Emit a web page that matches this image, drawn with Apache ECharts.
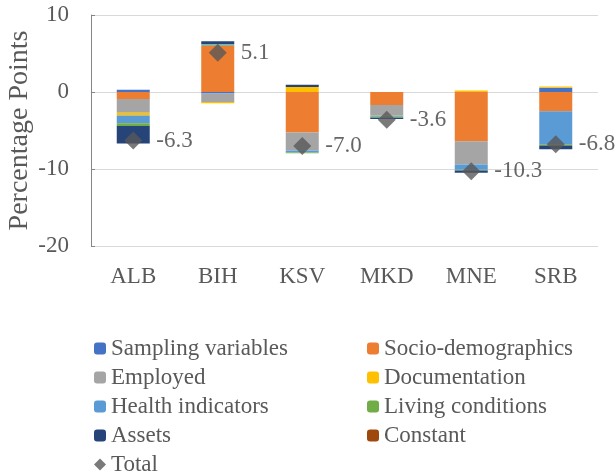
<!DOCTYPE html>
<html>
<head>
<meta charset="utf-8">
<script src="https://cdn.jsdelivr.net/npm/echarts@6/dist/echarts.min.js"></script>
<style>
  html, body { margin: 0; padding: 0; background: #fff; }
  #chart { width: 615px; height: 474px; }
</style>
</head>
<body>
<div id="chart"></div>
<script>
var countries = ['ALB', 'BIH', 'KSV', 'MKD', 'MNE', 'SRB'];
var sampling = [0.3, -0.2, 0, 0, 0, 0.55];
var socio = [-0.9, 6.0, -5.25, -1.7, -6.4, -2.5];
var employed = [-1.8, -1.1, -2.35, -1.3, -3.0, 0];
var documentation = [-0.35, -0.15, 0.65, -0.05, 0.2, 0.15];
var health = [-1.0, 0.15, -0.25, -0.15, -0.7, -4.3];
var living = [-0.35, 0.1, -0.1, -0.15, -0.1, -0.15];
var assets = [-2.3, 0.35, 0.3, -0.15, -0.3, -0.5];
var constant = [0, 0, 0, 0, 0, 0];
var total = [-6.3, 5.1, -7.0, -3.6, -10.3, -6.8];
var yTicks = [-20, -10, 0, 10];

var font = "'Liberation Serif', 'Times New Roman', serif";
var textColor = '#595959';

// one bar series per component, all in the same stack
var parts = [
    { name: 'Sampling variables', data: sampling, color: '#4472C4' },
    { name: 'Socio-demographics', data: socio, color: '#ED7D31' },
    { name: 'Employed', data: employed, color: '#A5A5A5' },
    { name: 'Documentation', data: documentation, color: '#FFC000' },
    { name: 'Health indicators', data: health, color: '#5B9BD5' },
    { name: 'Living conditions', data: living, color: '#70AD47' },
    { name: 'Assets', data: assets, color: '#264478' },
    { name: 'Constant', data: constant, color: '#9E480E' }
];

var series = parts.map(function (p) {
    return {
        name: p.name,
        type: 'bar',
        stack: 'total',
        barWidth: 33,
        itemStyle: { color: p.color },
        data: p.data
    };
});
series.push({
    name: 'Total',
    type: 'scatter',
    symbol: 'diamond',
    symbolSize: 18,
    itemStyle: { color: '#595959' },
    label: {
        show: true,
        position: 'right',
        distance: 14,
        fontFamily: font,
        fontSize: 23,
        color: '#404040',
        formatter: function (p) { return p.value.toFixed(1); }
    },
    z: 5,
    data: total
});

var legendText = { fontFamily: font, fontSize: 23, color: textColor };

// two legend columns, like the two-column legend of the original
var option = {
    animation: false,
    grid: { left: 91, right: 17, top: 15, bottom: 228, outerBoundsMode: 'none' },
    legend: [
        {
            orient: 'vertical', left: 94, top: 337, height: 200, itemWidth: 12, itemHeight: 12, itemGap: 6,
            padding: 0,
            textStyle: legendText,
            data: ['Sampling variables', 'Employed', 'Health indicators', 'Assets', 'Total']
        },
        {
            orient: 'vertical', left: 367, top: 337, height: 200, itemWidth: 12, itemHeight: 12, itemGap: 6,
            padding: 0,
            textStyle: legendText,
            data: ['Socio-demographics', 'Documentation', 'Living conditions', 'Constant']
        }
    ],
    xAxis: {
        type: 'category',
        data: countries,
        axisLine: { show: false, onZero: false },
        axisTick: { show: false },
        axisLabel: { fontFamily: font, fontSize: 23, color: textColor, margin: 19 }
    },
    yAxis: {
        type: 'value',
        min: yTicks[0],
        max: yTicks[yTicks.length - 1],
        interval: 10,
        name: 'Percentage Points',
        nameLocation: 'middle',
        nameGap: 57,
        nameMoveOverlap: false,
        nameTextStyle: { fontFamily: font, fontSize: 28, color: textColor },
        axisLine: { show: true, lineStyle: { color: '#868686' } },
        axisTick: { show: true, inside: true, length: 4, lineStyle: { color: '#868686' } },
        splitLine: { lineStyle: { color: '#d9d9d9' } },
        axisLabel: { fontFamily: font, fontSize: 23, color: textColor, margin: 22 }
    },
    series: series
};

var chart = echarts.init(document.getElementById('chart'));
chart.setOption(option);
</script>
</body>
</html>
